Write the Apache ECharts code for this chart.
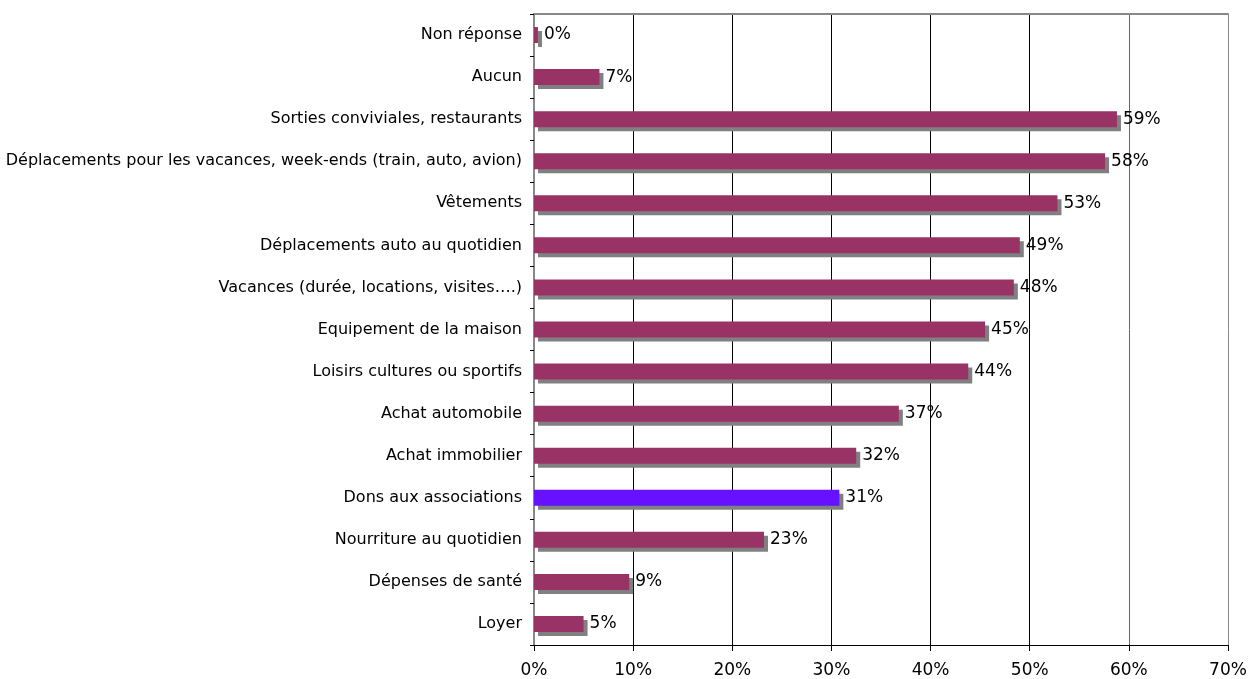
<!DOCTYPE html>
<html>
<head>
<meta charset="utf-8">
<script src="https://cdn.jsdelivr.net/npm/echarts@6/dist/echarts.min.js"></script>
<style>html,body{margin:0;padding:0;background:#fff}#c{width:1250px;height:679px}</style>
</head>
<body>
<div id="c"></div>
<script>
// Top-to-bottom order
var categories = [
  "Non réponse",
  "Aucun",
  "Sorties conviviales, restaurants",
  "Déplacements pour les vacances, week-ends (train, auto, avion)",
  "Vêtements",
  "Déplacements auto au quotidien",
  "Vacances (durée, locations, visites….)",
  "Equipement de la maison",
  "Loisirs cultures ou sportifs",
  "Achat automobile",
  "Achat immobilier",
  "Dons aux associations",
  "Nourriture au quotidien",
  "Dépenses de santé",
  "Loyer"
];
var values = [0.4, 6.6, 58.8, 57.6, 52.8, 49.0, 48.4, 45.5, 43.8, 36.8, 32.5, 30.8, 23.2, 9.6, 5.0];
var valueLabels = ["0%", "7%", "59%", "58%", "53%", "49%", "48%", "45%", "44%", "37%", "32%", "31%", "23%", "9%", "5%"];
var highlighted = "Dons aux associations";
var xTicks = [0, 10, 20, 30, 40, 50, 60, 70];

var FONT = "DejaVu Sans, Verdana, sans-serif";
var data = values.map(function (v, i) {
  var item = { value: v, label: { formatter: valueLabels[i] } };
  if (categories[i] === highlighted) item.itemStyle = { color: "#6611ff" };
  return item;
});

var chart = echarts.init(document.getElementById("c"), null, { renderer: "canvas" });
chart.setOption({
  animation: false,
  backgroundColor: "#fff",
  grid: { left: 534, right: 22, top: 14, bottom: 33, containLabel: false },
  xAxis: [{
    type: "value",
    min: xTicks[0], max: xTicks[xTicks.length - 1], interval: 10,
    axisLine: { show: true, lineStyle: { color: "#000", width: 1 } },
    axisTick: { show: true, length: 6, lineStyle: { color: "#000" } },
    axisLabel: { formatter: "{value}%", fontFamily: FONT, fontSize: 17, color: "#000", margin: 17 },
    splitLine: { show: true, lineStyle: { color: ["#000", "#000", "#000", "#000", "#000", "#000", "#666", "#888"], width: 1 } }
  }, {
    type: "value", position: "top",
    min: xTicks[0], max: xTicks[xTicks.length - 1], interval: 10,
    axisLine: { show: true, lineStyle: { color: "#888", width: 2 } },
    axisTick: { show: false }, axisLabel: { show: false }, splitLine: { show: false }
  }],
  yAxis: [{
    type: "category",
    data: categories,
    inverse: true,
    axisLine: { show: true, lineStyle: { color: "#000", width: 1 } },
    axisTick: { show: true, length: 4, lineStyle: { color: "#000" } },
    axisLabel: { fontFamily: FONT, fontSize: 16, color: "#000", margin: 12 },
    splitLine: { show: false }
  }, {
    type: "category",
    data: categories,
    inverse: true,
    position: "right",
    axisLine: { show: true, lineStyle: { color: "#888", width: 2 } },
    axisTick: { show: false }, axisLabel: { show: false }
  }],
  series: [{
    type: "bar",
    data: data,
    barWidth: 16,
    itemStyle: {
      color: "#993366",
      shadowColor: "#808080",
      shadowOffsetX: 4,
      shadowOffsetY: 4,
      shadowBlur: 0
    },
    label: {
      show: true, position: "right", distance: 6,
      fontFamily: FONT, fontSize: 17, color: "#000"
    }
  }]
});
</script>
</body>
</html>
